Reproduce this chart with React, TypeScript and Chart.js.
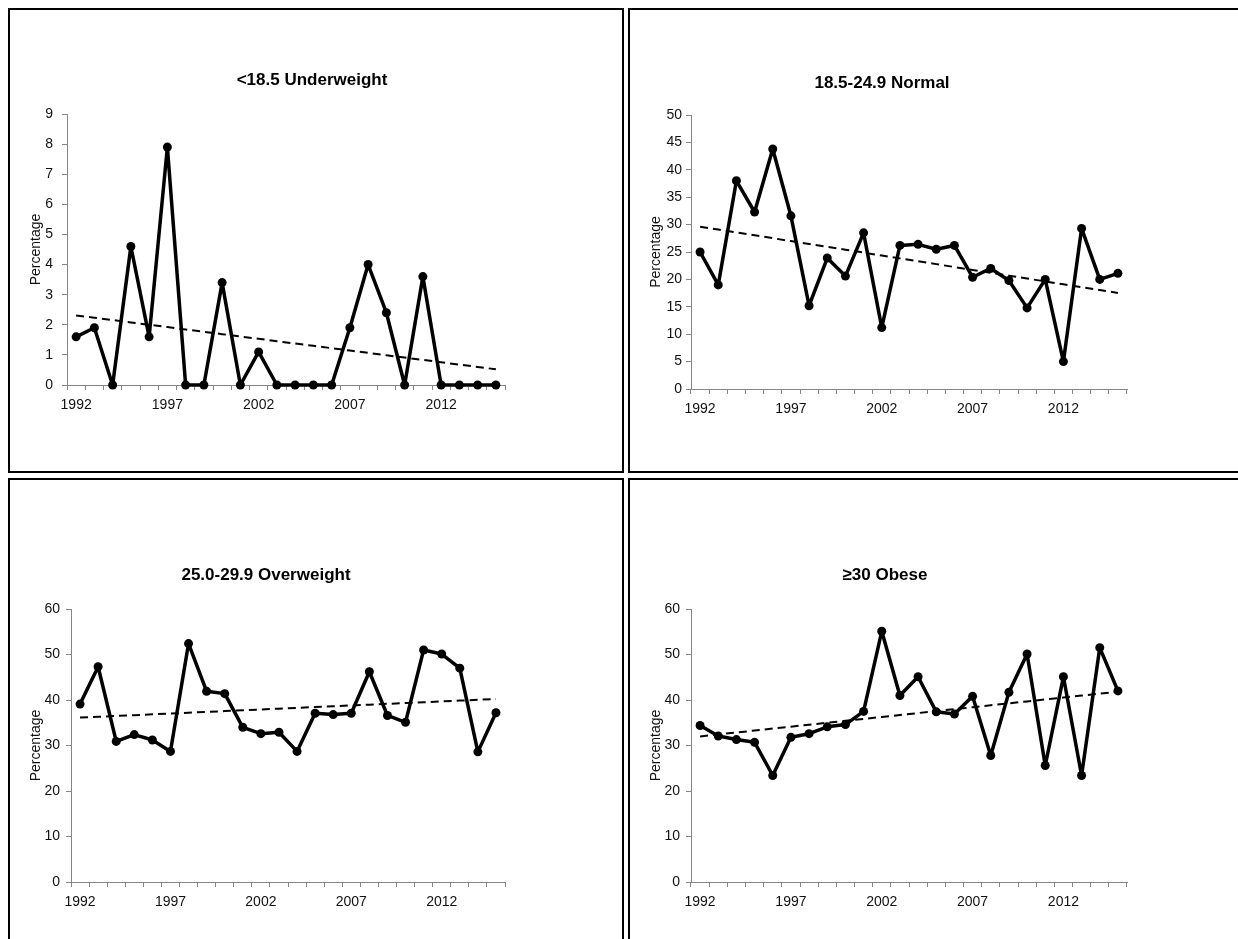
import React, { useEffect, useRef } from 'react';
import { Chart, registerables } from 'chart.js';
Chart.register(...registerables);

const years = ['1992','1993','1994','1995','1996','1997','1998','1999','2000','2001','2002','2003','2004','2005','2006','2007','2008','2009','2010','2011','2012','2013','2014','2015'];

const underweight = [1.6, 1.9, 0, 4.6, 1.6, 7.9, 0, 0, 3.4, 0, 1.1, 0, 0, 0, 0, 1.9, 4.0, 2.4, 0, 3.6, 0, 0, 0, 0];
const normal = [25.0, 19.0, 38.0, 32.3, 43.8, 31.6, 15.2, 23.9, 20.6, 28.5, 11.2, 26.2, 26.4, 25.5, 26.2, 20.4, 22.0, 19.8, 14.8, 20.0, 5.0, 29.3, 20.0, 21.1];
const overweight = [39.1, 47.3, 30.9, 32.4, 31.2, 28.7, 52.4, 41.9, 41.4, 34.0, 32.6, 32.9, 28.7, 37.1, 36.8, 37.1, 46.2, 36.6, 35.1, 51.0, 50.1, 47.0, 28.6, 37.2];
const obese = [34.4, 32.1, 31.3, 30.7, 23.4, 31.8, 32.6, 34.1, 34.6, 37.5, 55.1, 41.0, 45.1, 37.4, 36.9, 40.8, 27.8, 41.7, 50.1, 25.6, 45.1, 23.4, 51.5, 42.0];

const titles = ['<18.5 Underweight', '18.5-24.9 Normal', '25.0-29.9 Overweight', '\u226530 Obese'];
const yMax = [9, 50, 60, 60];
const yStep = [1, 5, 10, 10];
const yTitle = 'Percentage';

const FONT = '"Liberation Sans", Arial, sans-serif';
const CW = 612;
const CH = 461;

type Panel = {
  values: number[]; title: string; max: number; step: number;
  x: number; y: number;
  left: number; right: number; top: number; bottom: number;
  tx: number; ty: number; lpad: number;
};

const panels: Panel[] = [
  { values: underweight, title: titles[0], max: yMax[0], step: yStep[0], x: 8, y: 8, left: 57, right: 495, top: 104, bottom: 375, tx: 302, ty: 70, lpad: 9 },
  { values: normal, title: titles[1], max: yMax[1], step: yStep[1], x: 628, y: 8, left: 61, right: 497, top: 105, bottom: 379, tx: 252, ty: 73, lpad: 4 },
  { values: overweight, title: titles[2], max: yMax[2], step: yStep[2], x: 8, y: 478, left: 61, right: 495, top: 129, bottom: 402, tx: 256, ty: 95, lpad: 6 },
  { values: obese, title: titles[3], max: yMax[3], step: yStep[3], x: 628, y: 478, left: 61, right: 497, top: 129, bottom: 402, tx: 255, ty: 95, lpad: 6 },
];

function linearTrend(vals: number[]): number[] {
  const n = vals.length;
  const mx = (n - 1) / 2;
  const my = vals.reduce((a, b) => a + b, 0) / n;
  let sxy = 0, sxx = 0;
  vals.forEach((v, i) => { sxy += (i - mx) * (v - my); sxx += (i - mx) * (i - mx); });
  const slope = sxy / sxx;
  return vals.map((_, i) => my + slope * (i - mx));
}

function PanelChart({ p }: { p: Panel }) {
  const ref = useRef<HTMLCanvasElement | null>(null);
  useEffect(() => {
    if (!ref.current) return;
    const titlePlugin = {
      id: 'panelTitle',
      afterDraw(chart: any) {
        const ctx = chart.ctx;
        ctx.save();
        ctx.font = `bold 17px ${FONT}`;
        ctx.fillStyle = '#000';
        ctx.textAlign = 'center';
        ctx.textBaseline = 'middle';
        ctx.fillText(p.title, p.tx, p.ty);
        ctx.restore();
      },
    };
    const tickFont = { family: FONT, size: 14 };
    const chart = new Chart(ref.current, {
      type: 'line',
      data: {
        labels: years,
        datasets: [
          {
            data: p.values,
            borderColor: '#000',
            backgroundColor: '#000',
            borderWidth: 3.5,
            borderJoinStyle: 'round',
            borderCapStyle: 'round',
            pointRadius: 4.5,
            pointBackgroundColor: '#000',
            pointBorderColor: '#000',
            pointBorderWidth: 0,
            tension: 0,
            clip: false,
            order: 1,
          },
          {
            data: linearTrend(p.values),
            borderColor: '#000',
            borderWidth: 2,
            borderDash: [8, 5],
            pointRadius: 0,
            tension: 0,
            order: 2,
          },
        ],
      },
      options: {
        animation: false,
        responsive: false,
        maintainAspectRatio: false,
        layout: { padding: { left: 0, top: p.top, right: CW - p.right, bottom: 0 } },
        plugins: { legend: { display: false }, tooltip: { enabled: false }, title: { display: false } },
        scales: {
          x: {
            offset: true,
            grid: { offset: true, drawOnChartArea: false, drawTicks: true, tickLength: 5, color: '#868686' },
            border: { color: '#868686', width: 1 },
            ticks: {
              autoSkip: false, maxRotation: 0, minRotation: 0, font: tickFont, color: '#111', padding: 7,
              callback: (_v: any, i: number) => (i % 5 === 0 ? years[i] : ''),
            },
            afterFit: (s: any) => { s.height = CH - p.bottom; },
          },
          y: {
            min: 0, max: p.max,
            ticks: { stepSize: p.step, font: tickFont, color: '#111', padding: p.lpad },
            grid: { drawOnChartArea: false, drawTicks: true, tickLength: 5, color: '#868686' },
            border: { color: '#868686', width: 1 },
            title: { display: true, text: yTitle, font: { family: FONT, size: 14 }, color: '#111', padding: { top: 18, bottom: 0 } },
            afterFit: (s: any) => { s.width = p.left; },
          },
        },
      } as any,
      plugins: [titlePlugin],
    });
    return () => chart.destroy();
  }, [p]);
  return (
    <div style={{ position: 'absolute', left: p.x, top: p.y, width: 616, height: 465, border: '2px solid #000', boxSizing: 'border-box', background: '#fff' }}>
      <canvas ref={ref} width={CW} height={CH} style={{ display: 'block', width: CW, height: CH }} />
    </div>
  );
}

export default function App() {
  return (
    <div style={{ position: 'fixed', left: 0, top: 0, width: 1238, height: 939, overflow: 'hidden', background: '#fff' }}>
      {panels.map((p, i) => <PanelChart key={i} p={p} />)}
    </div>
  );
}
